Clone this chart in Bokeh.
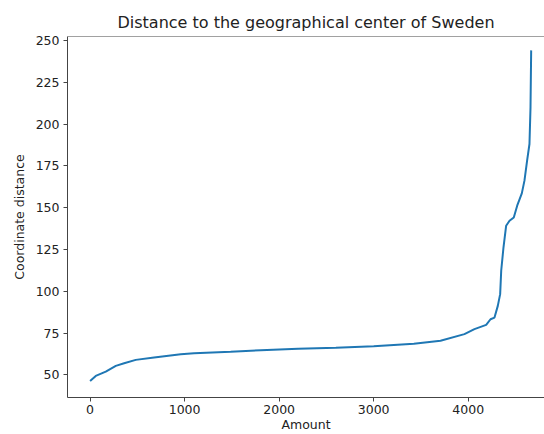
from bokeh.plotting import figure
from bokeh.models import FixedTicker, Range1d, Span
from bokeh.embed import file_html
from bokeh.resources import INLINE

# Data (sorted distances)
amount = [0, 60, 166, 272, 360, 483, 677, 959, 1100, 1487, 1805, 2200, 2600, 3000,
          3425, 3707, 3960, 4066, 4190, 4236, 4278, 4313, 4338, 4349, 4373, 4401,
          4437, 4482, 4518, 4567, 4595, 4623, 4648, 4659, 4666]
distance = [46.4, 49.4, 52.0, 55.4, 57.0, 59.0, 60.4, 62.4, 63.0, 63.8, 64.8, 65.6,
            66.2, 67.2, 68.7, 70.4, 74.4, 77.4, 79.9, 83.3, 84.3, 91.3, 98.3, 112.3,
            126.2, 139.2, 142.2, 144.2, 151.2, 158.6, 166.2, 178.1, 188.1, 210.0, 244.1]
x_ticks = [0, 1000, 2000, 3000, 4000]
y_ticks = [50, 75, 100, 125, 150, 175, 200, 225, 250]

FONT = "DejaVu Sans"
TXT = "#222222"
SPINE = "#444444"

p = figure(width=544, height=434, output_backend="svg", toolbar_location=None,
           x_range=Range1d(-239, 4807), y_range=Range1d(36.5, 252.4),
           title="Distance to the geographical center of Sweden",
           x_axis_label="Amount", y_axis_label="Coordinate distance",
           min_border_left=67, min_border_right=0, min_border_top=36, min_border_bottom=0)

p.background_fill_color = "white"
p.border_fill_color = "white"
p.outline_line_color = None
p.grid.visible = False

p.title.text_font = FONT
p.title.text_font_size = "16px"
p.title.text_font_style = "normal"
p.title.text_color = TXT
p.title.align = "center"
p.title.offset = 4

for ax in (p.xaxis[0], p.yaxis[0]):
    ax.axis_line_color = SPINE
    ax.axis_line_width = 1
    ax.major_tick_line_color = SPINE
    ax.major_tick_in = 0
    ax.major_tick_out = 4
    ax.minor_tick_line_color = None
    ax.major_label_text_font = FONT
    ax.major_label_text_font_size = "12.5px"
    ax.major_label_text_color = TXT
    ax.axis_label_text_font = FONT
    ax.axis_label_text_font_size = "12.5px"
    ax.axis_label_text_font_style = "normal"
    ax.axis_label_text_color = TXT
    ax.major_label_standoff = 4

p.xaxis[0].ticker = FixedTicker(ticks=x_ticks)
p.yaxis[0].ticker = FixedTicker(ticks=y_ticks)
p.xaxis[0].major_label_standoff = 3
p.xaxis[0].axis_label_standoff = 0
p.yaxis[0].axis_label_standoff = 6

# top spine along the upper edge of the plotting frame
p.add_layout(Span(location=p.y_range.end, dimension="width",
                  line_color=SPINE, line_width=1))

p.line(amount, distance, line_color="#1f77b4", line_width=2)

open("out.html", "w").write(file_html(p, INLINE))
